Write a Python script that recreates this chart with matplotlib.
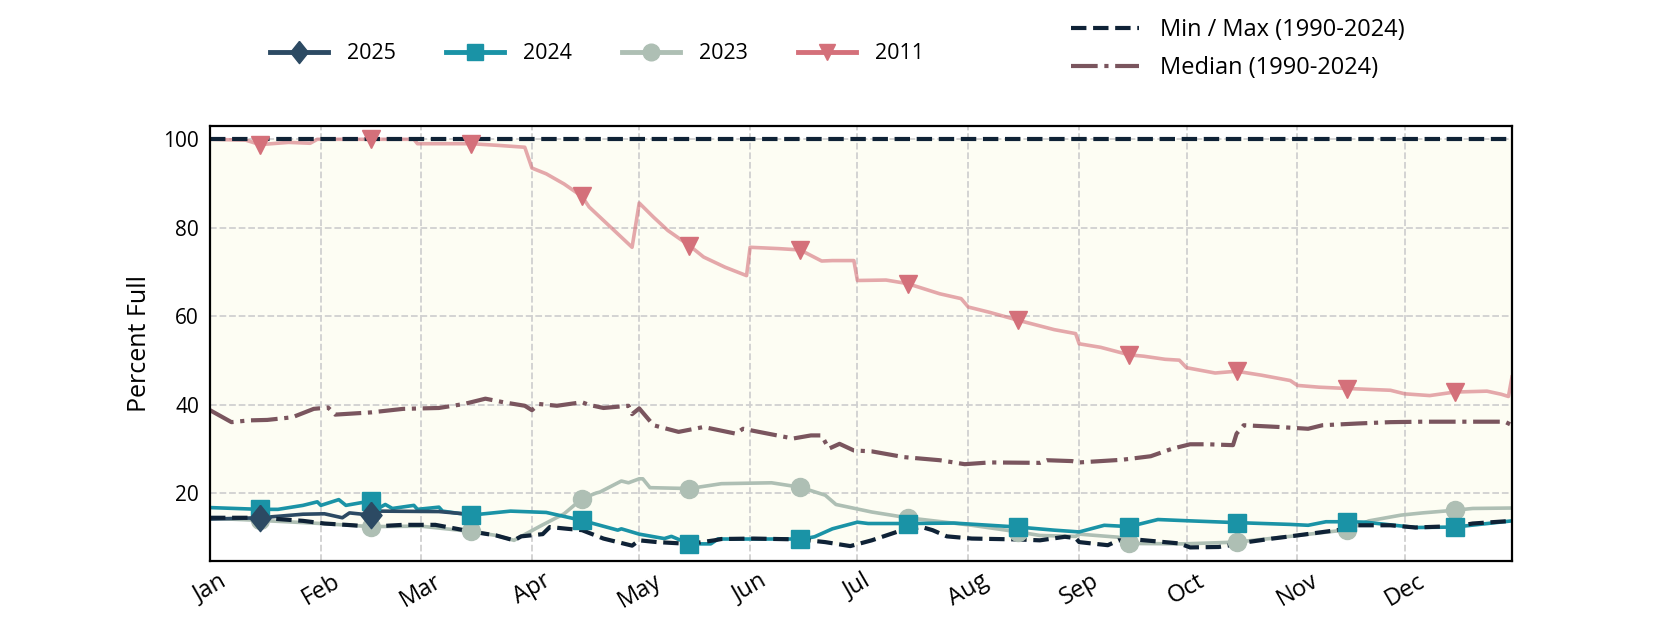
import pandas as pd
import matplotlib.pyplot as plt
import matplotlib.dates as mdates
from matplotlib.lines import Line2D

plt.rcParams["font.family"] = ["Open Sans", "DejaVu Sans"]

# Daily reservoir storage, percent full (dates as MM-DD)
minmax_dates = ["01-01", "01-15", "01-27", "02-02", "02-10", "02-15", "02-24", "03-05", "03-09",
                "03-15", "03-22", "03-27", "03-29", "04-04", "04-06", "04-11", "04-15", "04-21",
                "04-29", "05-01", "05-06", "05-15", "05-22", "05-24", "06-02", "06-15", "06-22",
                "06-29", "07-05", "07-12", "07-15", "07-19", "07-22", "07-26", "08-02", "08-15",
                "08-21", "08-28", "08-31", "09-01", "09-09", "09-12", "09-15", "09-18", "09-29",
                "10-02", "10-10", "10-15", "10-18", "10-25", "10-30", "11-13", "11-15", "11-18",
                "11-27", "12-04", "12-11", "12-15", "12-20", "12-31"]
min_vals = [14.5, 14.5, 13.8, 13.2, 12.8, 12.5, 12.9, 12.9, 12.3,
            11.4, 10.5, 9.4, 10.3, 10.8, 12.4, 12.0, 11.7, 9.8,
            8.2, 9.4, 9.0, 8.6, 9.4, 9.7, 9.8, 9.6, 9.0,
            8.1, 9.4, 11.3, 11.9, 12.4, 11.7, 10.3, 9.8, 9.6,
            9.4, 10.2, 9.9, 9.0, 8.3, 9.4, 9.2, 9.5, 8.7,
            7.8, 7.9, 8.5, 9.0, 9.8, 10.3, 11.8, 12.0, 12.8,
            12.8, 12.3, 12.5, 12.5, 13.2, 13.8]
max_vals = [100.0] * len(minmax_dates)

median_dates = ["01-01", "01-07", "01-12", "01-17", "01-24", "01-30", "02-03", "02-05", "02-15",
                "02-24", "03-06", "03-13", "03-19", "03-24", "03-30", "04-01", "04-03", "04-08",
                "04-15", "04-17", "04-21", "04-28", "04-29", "05-01", "05-05", "05-12", "05-19",
                "05-28", "05-30", "06-06", "06-13", "06-18", "06-21", "06-23", "06-26", "06-30",
                "07-05", "07-14", "07-24", "07-31", "08-07", "08-21", "08-23", "08-30", "09-01",
                "09-13", "09-21", "09-27", "10-02", "10-07", "10-14", "10-15", "10-17", "10-27",
                "11-04", "11-08", "11-18", "11-27", "12-06", "12-16", "12-29", "12-31"]
median_vals = [38.8, 36.1, 36.5, 36.6, 37.2, 39.1, 39.4, 37.8, 38.3,
               39.1, 39.3, 40.2, 41.4, 40.6, 39.8, 38.8, 40.2, 39.8,
               40.6, 40.0, 39.3, 39.8, 37.9, 39.2, 35.4, 33.9, 35.0,
               33.5, 34.6, 33.5, 32.4, 33.1, 33.1, 30.1, 31.2, 29.7,
               29.5, 28.2, 27.5, 26.6, 27.0, 26.9, 27.5, 27.3, 27.0,
               27.6, 28.4, 30.1, 31.1, 31.1, 30.9, 33.5, 35.4, 35.0,
               34.6, 35.4, 35.8, 36.1, 36.2, 36.2, 36.2, 35.4]

dates_2011 = ["01-01", "01-11", "01-15", "01-23", "01-29", "01-31", "02-15", "02-27", "02-28",
              "03-15", "03-23", "03-30", "04-01", "04-05", "04-10", "04-15", "04-17", "04-24",
              "04-29", "05-01", "05-05", "05-09", "05-15", "05-19", "05-25", "05-31", "06-01",
              "06-09", "06-15", "06-21", "06-24", "06-30", "07-01", "07-09", "07-15", "07-24",
              "07-30", "08-01", "08-07", "08-15", "08-25", "08-31", "09-01", "09-07", "09-15",
              "09-19", "09-25", "09-29", "10-01", "10-09", "10-15", "10-22", "10-30", "11-01",
              "11-07", "11-15", "11-27", "12-01", "12-08", "12-15", "12-24", "12-28", "12-30",
              "12-31"]
vals_2011 = [100.0, 99.8, 98.8, 99.3, 99.1, 100.0, 100.0, 100.0, 99.0,
             99.0, 98.6, 98.2, 93.5, 92.2, 89.9, 87.1, 84.7, 79.4,
             75.6, 85.6, 82.4, 79.4, 76.0, 73.4, 71.1, 69.2, 75.6,
             75.3, 75.0, 72.5, 72.6, 72.6, 68.1, 68.2, 67.4, 65.1,
             64.0, 62.1, 60.9, 59.1, 57.0, 56.1, 53.8, 53.0, 51.3,
             51.0, 50.3, 50.1, 48.4, 47.2, 47.6, 46.7, 45.5, 44.4,
             44.0, 43.7, 43.3, 42.5, 42.1, 42.9, 43.1, 42.4, 41.9,
             46.3]

dates_2023 = ["01-01", "01-15", "02-01", "02-15", "03-01", "03-15", "03-22", "03-27", "03-29",
              "04-04", "04-10", "04-15", "04-19", "04-20", "04-26", "04-28", "05-01", "05-02",
              "05-04", "05-15", "05-24", "06-07", "06-15", "06-22", "06-25", "07-05", "07-15",
              "08-02", "08-15", "08-21", "08-31", "09-01", "09-12", "09-15", "09-30", "10-15",
              "10-30", "11-15", "11-21", "11-30", "12-06", "12-15", "12-20", "12-31"]
vals_2023 = [14.4, 13.9, 13.2, 12.5, 12.6, 11.4, 10.5, 9.4, 10.3,
             12.9, 15.4, 18.8, 20.1, 20.3, 22.8, 22.4, 23.3, 23.3,
             21.3, 21.1, 22.2, 22.4, 21.4, 19.6, 17.5, 15.8, 14.5,
             12.8, 11.3, 10.5, 10.3, 10.8, 10.1, 8.7, 8.6, 9.0,
             10.3, 11.8, 13.8, 15.1, 15.6, 16.2, 16.6, 16.7]

dates_2024 = ["01-01", "01-15", "01-20", "01-27", "01-31", "02-01", "02-06", "02-08", "02-15",
              "02-17", "02-19", "02-21", "02-27", "02-28", "03-06", "03-07", "03-15", "03-26",
              "04-05", "04-15", "04-25", "04-26", "05-01", "05-08", "05-10", "05-15", "05-21",
              "05-23", "06-13", "06-15", "06-19", "06-24", "07-01", "07-04", "07-15", "07-28",
              "08-15", "08-25", "09-01", "09-08", "09-15", "09-23", "10-02", "10-15", "10-30",
              "11-04", "11-09", "11-15", "11-20", "12-04", "12-15", "12-31"]
vals_2024 = [16.8, 16.4, 16.4, 17.3, 18.1, 17.3, 18.6, 17.3, 18.3,
             16.6, 17.5, 16.6, 17.3, 16.4, 16.9, 16.0, 15.1, 16.0,
             15.7, 13.9, 11.7, 12.0, 10.8, 9.8, 10.3, 8.6, 8.6,
             9.7, 9.7, 9.6, 10.2, 12.0, 13.5, 13.2, 13.2, 13.3,
             12.4, 11.7, 11.3, 12.8, 12.5, 14.1, 13.8, 13.4, 13.0,
             12.8, 13.6, 13.6, 13.5, 12.3, 12.4, 13.8]

dates_2025 = ["01-01", "01-15", "01-27", "02-02", "02-07", "02-09", "02-15", "02-17", "03-06",
              "03-13"]
vals_2025 = [14.2, 14.5, 15.3, 15.4, 14.5, 15.6, 15.1, 16.0, 15.9, 15.4]


def to_dates(md):
    return pd.to_datetime(["2025-" + d for d in md])


# slightly tall diamond used for the current year
diamond = [(0, 1), (0.8, 0), (0, -1), (-0.8, 0), (0, 1)]

fig, ax = plt.subplots(figsize=(16.8, 6.3), dpi=100)
fig.subplots_adjust(left=0.125, right=0.9, bottom=0.11, top=0.8)

mm_x = to_dates(minmax_dates)
ax.fill_between(mm_x, min_vals, max_vals, color="#FDFDF3", zorder=0)

series = [
    ("2011", dates_2011, vals_2011, "#D4707A", "v", 0.6),
    ("2023", dates_2023, vals_2023, "#AEBFB4", "o", 1.0),
    ("2024", dates_2024, vals_2024, "#1A93A6", "s", 1.0),
    ("2025", dates_2025, vals_2025, "#2C4A63", diamond, 1.0),
]

for i, (name, d, v, c, m, a) in enumerate(series):
    x = to_dates(d)
    ax.plot(x, v, color=c, lw=2.6, alpha=a, zorder=2 + i * 0.1)
    mid = [k for k, s in enumerate(d) if s.endswith("-15")]
    ax.plot(x[mid], [v[k] for k in mid], ls="none", marker=m,
            ms=19 if m is diamond else 13, color=c, mec=c, zorder=5 + i * 0.1)

ax.plot(mm_x, max_vals, color="#0F2236", lw=3, ls="--", zorder=4)
ax.plot(mm_x, min_vals, color="#0F2236", lw=3, ls="--", zorder=4)
ax.plot(to_dates(median_dates), median_vals, color="#7A555E", lw=3, ls="-.", zorder=4)

ax.set_xlim(pd.Timestamp("2025-01-01"), pd.Timestamp("2025-12-31"))
ax.set_ylim(4.8, 103)
ax.set_yticks([20, 40, 60, 80, 100])
ax.xaxis.set_major_locator(mdates.MonthLocator())
ax.xaxis.set_major_formatter(mdates.DateFormatter("%b"))
ax.tick_params(length=0, pad=8)
ax.tick_params(axis="y", labelsize=15)
ax.tick_params(axis="x", labelsize=17, pad=6)
for lab in ax.get_xticklabels():
    lab.set_rotation(30)
    lab.set_ha("center")

ax.set_ylabel("Percent Full", fontsize=18, labelpad=8)
ax.grid(True, ls="--", color="#D0D0D0", lw=1.3, zorder=1)
ax.set_axisbelow(True)
for sp in ax.spines.values():
    sp.set_color("black")
    sp.set_linewidth(1.6)
    sp.set_zorder(10)

# Year legend
handles1 = [Line2D([], [], color=c, marker=m, ms=16 if m is diamond else 12, lw=3.5)
            for name, d, v, c, m, a in reversed(series)]
labels1 = [name for name, *_ in reversed(series)]
fig.legend(handles1, labels1, loc="center left", bbox_to_anchor=(0.1607, 0.915),
           ncol=4, frameon=False, fontsize=15.5, handlelength=2.7,
           handletextpad=0.9, columnspacing=2.3, borderpad=0, borderaxespad=0)

# Reference legend
handles2 = [Line2D([], [], color="#0F2236", lw=3, ls="--"),
            Line2D([], [], color="#7A555E", lw=3, ls="-.")]
fig.legend(handles2, ["Min / Max (1990-2024)", "Median (1990-2024)"], loc="center left",
           bbox_to_anchor=(0.6375, 0.922), frameon=False, fontsize=17, handlelength=2.9,
           handletextpad=0.85, labelspacing=0.58, borderpad=0, borderaxespad=0)

plt.savefig("out.png", dpi=100, facecolor="white")
